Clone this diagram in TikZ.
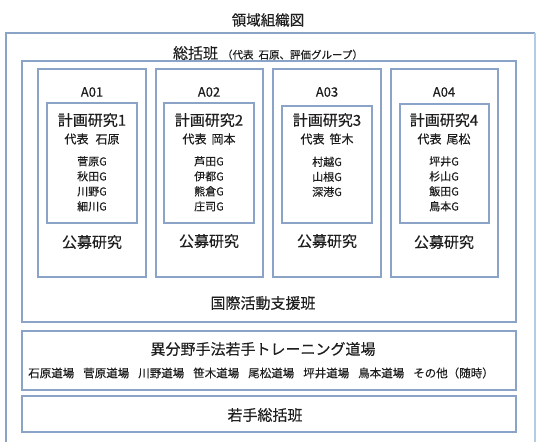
\documentclass[tikz,border=0pt]{standalone}
\usepackage{fontspec}
\setmainfont{Noto Sans CJK JP}[FakeBold=0.35]
\definecolor{boxc}{RGB}{138,163,198}
\definecolor{boxl}{RGB}{175,205,230}
\definecolor{txt}{RGB}{30,30,30}
\newcommand{\grp}[1]{\fontsize{11}{15}\selectfont\begin{tabular}{@{}c@{}}#1\end{tabular}}
\begin{document}
\begin{tikzpicture}[x=1pt,y=-1pt,
  frame/.style={draw=boxc,line width=1.3pt},
  lbl/.style={inner sep=0pt,text=txt,font=\fontsize{#1}{#1}\selectfont},
  lbl/.default=15]
\useasboundingbox[fill=white] (0,0) rectangle (537,441);
% outer box (bottom beyond page)
\draw[frame] (535,460) -- (6,460) -- (6,33) -- (535,33);
\draw[draw=boxl,line width=1.3pt] (535,33) -- (535,460);
% middle box
\draw[frame] (22,61) rectangle (516,322);
% A boxes
\draw[frame] (38,69) rectangle (146,277);
\draw[frame] (156,69) rectangle (263,277);
\draw[frame] (273,69) rectangle (381,277);
\draw[frame] (391,69) rectangle (498,277);
% inner boxes
\draw[frame] (47,103) rectangle (137,223);
\draw[frame] (164,103) rectangle (254,223);
\draw[frame] (282,106) rectangle (372,223);
\draw[frame] (400,104) rectangle (489,223);
% lower boxes
\draw[frame] (22,331) rectangle (516,390);
\draw[frame] (22,396) rectangle (516,432);

\node[lbl=14.5] (title) at (268,20) {領域組織図};
\node[inner sep=0pt,text=txt] (sokatsu) at (268,53) {{\fontsize{15}{15}\selectfont 総括班}\hspace{4pt}{\fontsize{10.5}{10.5}\selectfont （代表\hspace{5pt}石原、評価グループ）}};

% A01
\node[lbl=13] (a01) at (92,92) {A01};
\node[lbl=15] (k1) at (92,120) {計画研究1};
\node[lbl=12] (d1) at (92,139) {代表\hspace{7pt}石原};
\node[inner sep=0pt,text=txt] (g1) at (92,185) {\grp{菅原G\\秋田G\\川野G\\細川G}};
\node[lbl=15] (p1) at (92,242) {公募研究};
% A02
\node[lbl=13] (a02) at (209,92) {A02};
\node[lbl=15] (k2) at (209,120) {計画研究2};
\node[lbl=12] (d2) at (209,139) {代表\hspace{5pt}岡本};
\node[inner sep=0pt,text=txt] (g2) at (209,185) {\grp{芦田G\\伊都G\\熊倉G\\庄司G}};
\node[lbl=15] (p2) at (209,241) {公募研究};
% A03
\node[lbl=13] (a03) at (327,92) {A03};
\node[lbl=15] (k3) at (327,120) {計画研究3};
\node[lbl=12] (d3) at (327,139) {代表\hspace{5pt}笹木};
\node[inner sep=0pt,text=txt] (g3) at (327,178) {\grp{村越G\\山根G\\深港G}};
\node[lbl=15] (p3) at (327,241) {公募研究};
% A04
\node[lbl=13] (a04) at (444,92) {A04};
\node[lbl=15] (k4) at (444,120) {計画研究4};
\node[lbl=12] (d4) at (444,139) {代表\hspace{5pt}尾松};
\node[inner sep=0pt,text=txt] (g4) at (444,185) {\grp{坪井G\\杉山G\\飯田G\\鳥本G}};
\node[lbl=15] (p4) at (444,242) {公募研究};

\node[lbl=15] (kokusai) at (263,303) {国際活動支援班};
\node[lbl=15] (ibunya) at (263,349) {異分野手法若手トレーニング道場};
\node[lbl=11.5] (dojo) at (261,373) {石原道場\hspace{9pt}菅原道場\hspace{9pt}川野道場\hspace{9pt}笹木道場\hspace{9pt}尾松道場\hspace{9pt}坪井道場\hspace{9pt}鳥本道場\hspace{9pt}その他（随時）};
\node[lbl=15] (wakate) at (265,415) {若手総括班};
\end{tikzpicture}
\end{document}
